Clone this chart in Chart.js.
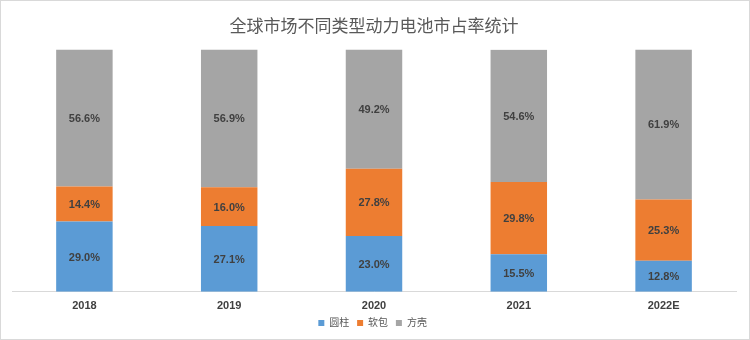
<!DOCTYPE html>
<html>
<head>
<meta charset="utf-8">
<script src="https://cdn.jsdelivr.net/npm/chart.js@4"></script>
<style>
  html, body { margin: 0; padding: 0; background: #fff; }
  #wrap { width: 748px; height: 338px; border: 1px solid #d9d9d9; position: relative; }
</style>
</head>
<body>
<div id="wrap"><canvas id="chart" width="748" height="338"></canvas></div>
<script>
const years = ["2018", "2019", "2020", "2021", "2022E"];
const cylinder = [29.0, 27.1, 23.0, 15.5, 12.8];
const pouch = [14.4, 16.0, 27.8, 29.8, 25.3];
const prismatic = [56.6, 56.9, 49.2, 54.6, 61.9];
const seriesNames = ["圆柱", "软包", "方壳"];

const FONT = "'Liberation Sans', 'Noto Sans CJK SC', sans-serif";

// draw the value in the middle of each segment
const segmentLabels = {
  id: "segmentLabels",
  afterDatasetsDraw(chart) {
    const ctx = chart.ctx;
    ctx.save();
    ctx.font = "bold 11px " + FONT;
    ctx.fillStyle = "#404040";
    ctx.textAlign = "center";
    ctx.textBaseline = "middle";
    chart.data.datasets.forEach((ds, i) => {
      chart.getDatasetMeta(i).data.forEach((bar, j) => {
        const p = bar.getCenterPoint();
        ctx.fillText(ds.data[j].toFixed(1) + "%", p.x, p.y + 1);
      });
    });
    ctx.restore();
  },
};

new Chart(document.getElementById("chart"), {
  type: "bar",
  data: {
    labels: years,
    datasets: [
      { label: seriesNames[0], data: cylinder, backgroundColor: "#5B9BD5" },
      { label: seriesNames[1], data: pouch, backgroundColor: "#ED7D31" },
      { label: seriesNames[2], data: prismatic, backgroundColor: "#A5A5A5" },
    ],
  },
  options: {
    responsive: false,
    animation: false,
    layout: { padding: { top: 16, left: 11, right: 13, bottom: 1 } },
    datasets: { bar: { categoryPercentage: 1, barPercentage: 0.39 } },
    plugins: {
      title: {
        display: true,
        text: "全球市场不同类型动力电池市占率统计",
        color: "#595959",
        font: { family: FONT, size: 17, weight: "normal" },
        padding: { top: 0, bottom: 12 },
      },
      legend: {
        position: "bottom",
        labels: {
          color: "#595959",
          font: { family: FONT, size: 10 },
          boxWidth: 6,
          boxHeight: 6,
          padding: 5,
          generateLabels(chart) {
            return Chart.defaults.plugins.legend.labels
              .generateLabels(chart)
              .map((l) => ({ ...l, text: l.text + " " }));
          },
        },
      },
      tooltip: { enabled: false },
    },
    scales: {
      x: {
        stacked: true,
        grid: { display: false },
        border: { color: "#d9d9d9" },
        ticks: { color: "#404040", font: { family: FONT, size: 11, weight: "bold" }, padding: 0 },
      },
      y: { stacked: true, display: false, min: 0, max: 100 },
    },
  },
  plugins: [segmentLabels],
});
</script>
</body>
</html>
